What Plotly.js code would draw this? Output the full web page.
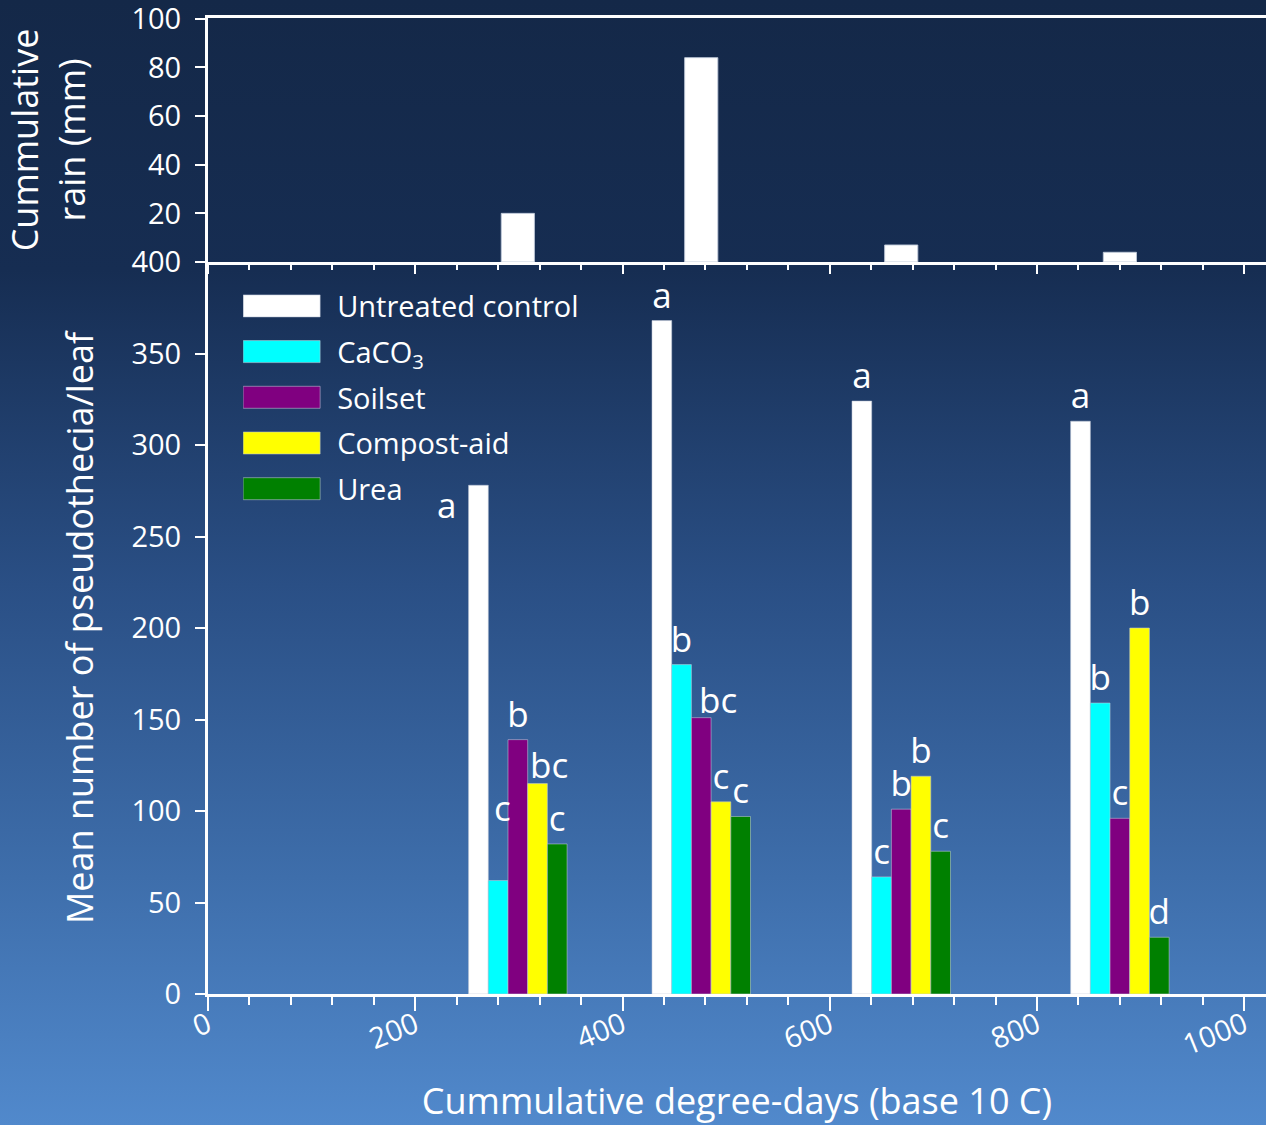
<!DOCTYPE html>
<html>
<head>
<meta charset="utf-8">
<script src="https://cdn.plot.ly/plotly-3.0.1.min.js"></script>
<style>
  html, body { margin: 0; padding: 0; }
  body {
    width: 1266px; height: 1125px; overflow: hidden;
    background: linear-gradient(180deg, #142848 0%, #162d52 24%, #2a4f85 52%, #3e6eab 78%, #5189cc 100%);
  }
  #chart { width: 1266px; height: 1125px; }
</style>
</head>
<body>
<div id="chart"></div>
<script>
// ---- data ----
const degreeDays = [299, 476, 669, 880];
const rainMm = [20, 84, 7, 4];

const seriesNames = ['Untreated control', 'CaCO<sub>3</sub>', 'Soilset', 'Compost-aid', 'Urea'];
const untreatedControl = [278, 368, 324, 313];
const caco3 = [62, 180, 64, 159];
const soilset = [139, 151, 101, 96];
const compostAid = [115, 105, 119, 200];
const urea = [82, 97, 78, 31];

const untreatedLetters = ['a', 'a', 'a', 'a'];
const caco3Letters = ['c', 'b', 'c', 'b'];
const soilsetLetters = ['b', 'bc', 'b', 'c'];
const compostLetters = ['bc', 'c', 'b', 'b'];
const ureaLetters = ['c', 'c', 'c', 'd'];

const xTickVals = [0, 200, 400, 600, 800, 1000];
const rainTickVals = [20, 40, 60, 80, 100];

// ---- styles ----
const FONT = 'Open Sans, Noto Sans, sans-serif';
const colors = ['#ffffff', '#00ffff', '#800080', '#ffff00', '#008000'];
const seriesValues = [untreatedControl, caco3, soilset, compostAid, urea];
const seriesLetters = [untreatedLetters, caco3Letters, soilsetLetters, compostLetters, ureaLetters];
// letters that the reference places away from their bar top (pixel nudges from the group centre, style only)
const letterNudges = [
  { series: 0, point: 0, dx: -71, dy: -19 },
  { series: 1, point: 0, dx: -15, dy: 73 },
  { series: 3, point: 0, dx: 31, dy: 19 },
  { series: 2, point: 1, dx: 17, dy: 18 }
];
const LETTER_SIZE = 35;

const traces = [];
traces.push({
  type: 'bar', x: degreeDays, y: rainMm, xaxis: 'x2', yaxis: 'y2',
  width: 32, showlegend: false, hoverinfo: 'skip',
  marker: { color: '#ffffff', line: { color: 'rgba(190,200,215,0.9)', width: 1 } }
});
const annotations = [];
seriesValues.forEach((vals, i) => {
  const txt = seriesLetters[i].slice();
  letterNudges.filter(n => n.series === i).forEach(n => {
    annotations.push({
      xref: 'x', yref: 'y', x: degreeDays[n.point], y: vals[n.point],
      text: txt[n.point], showarrow: false, xshift: n.dx, yshift: n.dy,
      xanchor: 'center', yanchor: 'middle',
      font: { family: FONT, size: LETTER_SIZE, color: '#ffffff' }
    });
    txt[n.point] = '';
  });
  traces.push({
    type: 'bar', name: seriesNames[i], x: degreeDays, y: vals,
    xaxis: 'x', yaxis: 'y', legendgroup: 'g' + i,
    text: txt, textposition: 'outside', cliponaxis: false,
    constraintext: 'none',
    textfont: { family: FONT, size: LETTER_SIZE, color: '#ffffff' },
    marker: { color: colors[i], line: { color: 'rgba(190,200,215,0.7)', width: 0.8 } }
  });
});

const axisCommon = {
  showline: true, linecolor: '#ffffff', linewidth: 3,
  showgrid: false, zeroline: false,
  tickcolor: '#ffffff', tickwidth: 2, ticklabeloverflow: 'allow',
  tickfont: { family: FONT, size: 29, color: '#ffffff' }
};

const layout = {
  width: 1266, height: 1125,
  margin: { l: 208, r: 0, t: 18, b: 131 },
  paper_bgcolor: 'rgba(0,0,0,0)', plot_bgcolor: 'rgba(0,0,0,0)',
  barmode: 'group', bargap: 0.463, bargroupgap: 0,
  font: { family: FONT, color: '#ffffff' },
  showlegend: true,
  annotations: annotations,
  legend: {
    x: 0.0332, y: 0.731, xanchor: 'left', yanchor: 'top',
    bgcolor: 'rgba(0,0,0,0)', itemwidth: 84, tracegroupgap: 5,
    font: { family: FONT, size: 29, color: '#ffffff' },
    itemclick: false, itemdoubleclick: false
  },
  xaxis: Object.assign({}, axisCommon, {
    domain: [0, 1], anchor: 'y', range: [0, 1021],
    tickvals: xTickVals, ticks: 'outside', ticklen: 14, tickangle: -22, ticklabelstandoff: -14,
    minor: { dtick: 40, tick0: 0, ticks: 'outside', ticklen: 8, tickcolor: '#ffffff', tickwidth: 2 },
    title: { text: 'Cummulative degree-days (base 10 C)', font: { family: FONT, size: 36, color: '#ffffff' }, standoff: 50 }
  }),
  yaxis: Object.assign({}, axisCommon, {
    domain: [0, 0.75], anchor: 'x', range: [0, 400], dtick: 50,
    ticks: 'outside', ticklen: 10, ticklabelstandoff: 8,
    title: { text: 'Mean number of pseudothecia/leaf', font: { family: FONT, size: 36, color: '#ffffff' }, standoff: 27 }
  }),
  xaxis2: Object.assign({}, axisCommon, {
    domain: [0, 1], anchor: 'y2', matches: 'x', range: [0, 1021],
    tickvals: xTickVals, ticks: 'outside', ticklen: 9, showticklabels: false, mirror: true,
    minor: { dtick: 40, tick0: 0, ticks: 'outside', ticklen: 5, tickcolor: '#ffffff', tickwidth: 2 }
  }),
  yaxis2: Object.assign({}, axisCommon, {
    domain: [0.75, 1], anchor: 'x2', range: [0, 100.3], tickvals: rainTickVals,
    ticks: 'outside', ticklen: 10, ticklabelstandoff: 8,
    title: { text: 'Cummulative<br>rain (mm)', font: { family: FONT, size: 36, color: '#ffffff' }, standoff: 44 }
  })
};

Plotly.newPlot('chart', traces, layout, { staticPlot: true, displayModeBar: false }).then(gd => {
  // widen legend swatches to match the reference's long rectangles
  gd.querySelectorAll('.legend .traces').forEach(t => {
    const lp = t.querySelector('.legendpoints');
    if (!lp) return;
    lp.setAttribute('transform', 'translate(0,0)');
    lp.querySelectorAll('g, path').forEach(el => el.removeAttribute('transform'));
    lp.querySelectorAll('path').forEach(p => p.setAttribute('d', 'M0,-11H77V11H0Z'));
  });
});
</script>
</body>
</html>
